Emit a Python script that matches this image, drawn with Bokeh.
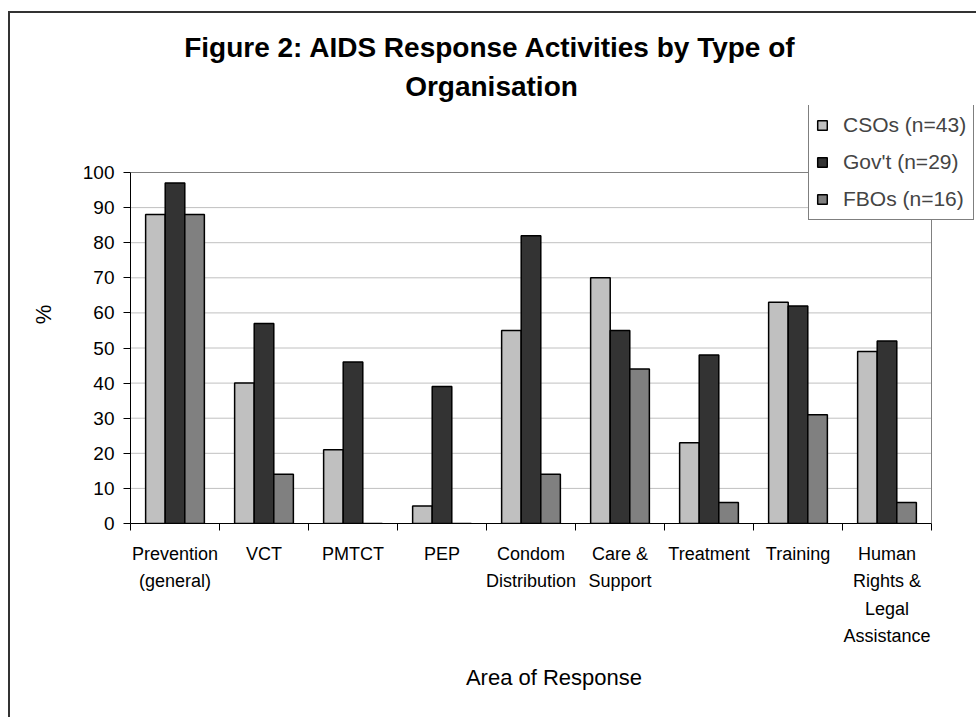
from bokeh.plotting import figure
from bokeh.models import (Range1d, FixedTicker, Legend, LegendItem, Title, ColumnDataSource)
from bokeh.transform import dodge
from bokeh.embed import file_html
from bokeh.resources import INLINE

# ---- data ----
categories = ["Prevention\n(general)", "VCT", "PMTCT", "PEP", "Condom\nDistribution",
              "Care &\nSupport", "Treatment", "Training", "Human\nRights &\nLegal\nAssistance"]
csos = [88, 40, 21, 5, 55, 70, 23, 63, 49]
govt = [97, 57, 46, 39, 82, 55, 48, 62, 52]
fbos = [88, 14, 0, 0, 14, 44, 6, 31, 6]
series_names = ["CSOs (n=43)", "Gov't (n=29)", "FBOs (n=16)"]
y_ticks = list(range(0, 101, 10))
y_max = 100

FONT = "Liberation Sans"
n = len(categories)
centers = [i + 0.5 for i in range(n)]
src = ColumnDataSource(dict(xc=centers, csos=csos, govt=govt, fbos=fbos))

# frame is extended to the right/top so the legend (which overhangs the plot area) is not clipped
W, H = 968, 706
x_end = n * (977 - 130) / (931 - 130)
y_end = y_max * (523 - 105) / (523 - 172)
p = figure(width=W, height=H, output_backend="svg", toolbar_location=None,
           x_range=Range1d(0, x_end), y_range=Range1d(0, y_end),
           min_border_left=120, min_border_right=1, min_border_top=92, min_border_bottom=196)
p.styles = {"margin-left": "8px", "margin-top": "11px",
            "border-left": "2px solid #333333", "border-top": "2px solid #333333"}
p.background_fill_color = "white"
p.border_fill_color = "white"
p.outline_line_color = None
p.xgrid.grid_line_color = None
p.ygrid.grid_line_color = None

# gridlines and plot-area border
grid_y = [t for t in y_ticks if 0 < t < y_max]
p.segment(x0=[0] * len(grid_y), x1=[n] * len(grid_y), y0=grid_y, y1=grid_y,
          line_color="#C0C0C0", line_width=1)

bw = 0.22
colors = ["#C0C0C0", "#333333", "#808080"]
r1 = p.vbar(x=dodge("xc", -bw, range=p.x_range), top="csos", width=bw, source=src,
            fill_color=colors[0], line_color="black", line_width=1.5)
r2 = p.vbar(x=dodge("xc", 0, range=p.x_range), top="govt", width=bw, source=src,
            fill_color=colors[1], line_color="black", line_width=1.5)
r3 = p.vbar(x=dodge("xc", bw, range=p.x_range), top="fbos", width=bw, source=src,
            fill_color=colors[2], line_color="black", line_width=1.5)

p.segment(x0=[0, n], x1=[n, n], y0=[y_max, 0], y1=[y_max, y_max],
          line_color="#808080", line_width=1)

# x axis
xa = p.xaxis[0]
xa.bounds = (0, n)
xa.ticker = FixedTicker(ticks=centers, minor_ticks=list(range(n + 1)))
xa.major_label_overrides = {c: lab for c, lab in zip(centers, categories)}
xa.major_tick_line_color = None
xa.minor_tick_line_color = "black"
xa.minor_tick_in = 0
xa.minor_tick_out = 7
xa.axis_line_color = "black"
xa.major_label_text_font = FONT
xa.major_label_text_font_size = "18px"
xa.major_label_text_color = "black"
xa.major_label_text_line_height = 1.38
xa.major_label_standoff = 13
xa.axis_label = "Area of Response"
xa.axis_label_text_font = FONT
xa.axis_label_text_font_size = "22px"
xa.axis_label_text_font_style = "normal"
xa.axis_label_text_color = "black"
xa.axis_label_standoff = 16

# y axis
ya = p.yaxis[0]
ya.bounds = (0, y_max)
ya.ticker = FixedTicker(ticks=y_ticks)
ya.major_tick_in = 0
ya.major_tick_out = 7
ya.minor_tick_line_color = None
ya.axis_line_color = "black"
ya.major_label_text_font = FONT
ya.major_label_text_font_size = "19px"
ya.major_label_text_color = "black"
ya.major_label_standoff = 9
ya.axis_label = "%"
ya.axis_label_text_font = FONT
ya.axis_label_text_font_size = "22px"
ya.axis_label_text_font_style = "normal"
ya.axis_label_text_color = "black"
ya.axis_label_standoff = 24

# title (two centred lines over the whole chart)
line1 = "Figure 2: AIDS Response Activities by Type of"
line2 = "Organisation"
bold_w = {'F': .611, 'i': .278, 'g': .611, 'u': .611, 'r': .389, 'e': .556, ' ': .278, '2': .556,
          ':': .333, 'A': .722, 'I': .278, 'D': .722, 'S': .667, 'R': .722, 's': .556, 'p': .611,
          'o': .611, 'n': .611, 'c': .556, 't': .333, 'v': .556, 'b': .611, 'y': .556, 'T': .611,
          'f': .333, 'O': .778, 'a': .556}
TS = 28
center_x = 481 - 120  # chart centre relative to frame left

def off(txt):
    w = sum(bold_w.get(ch, .6) for ch in txt) * TS
    return center_x - w / 2

t2 = Title(text=line2, align="left", offset=off(line2), text_font=FONT, text_font_size=f"{TS}px",
           text_font_style="bold", text_color="black", standoff=8)
t1 = Title(text=line1, align="left", offset=off(line1), text_font=FONT, text_font_size=f"{TS}px",
           text_font_style="bold", text_color="black", standoff=3)
p.add_layout(t2, "above")
p.add_layout(t1, "above")

legend = Legend(items=[LegendItem(label=series_names[0], renderers=[r1]),
                       LegendItem(label=series_names[1], renderers=[r2]),
                       LegendItem(label=series_names[2], renderers=[r3])],
                location=(678, 303), margin=0, padding=7, spacing=11,
                label_text_font=FONT, label_text_font_size="21px", label_height=26,
                glyph_width=12, glyph_height=12, label_standoff=15,
                border_line_color="black", border_line_width=1,
                background_fill_color="white", background_fill_alpha=1)
p.add_layout(legend, "center")

open("out.html", "w").write(file_html(p, INLINE))
